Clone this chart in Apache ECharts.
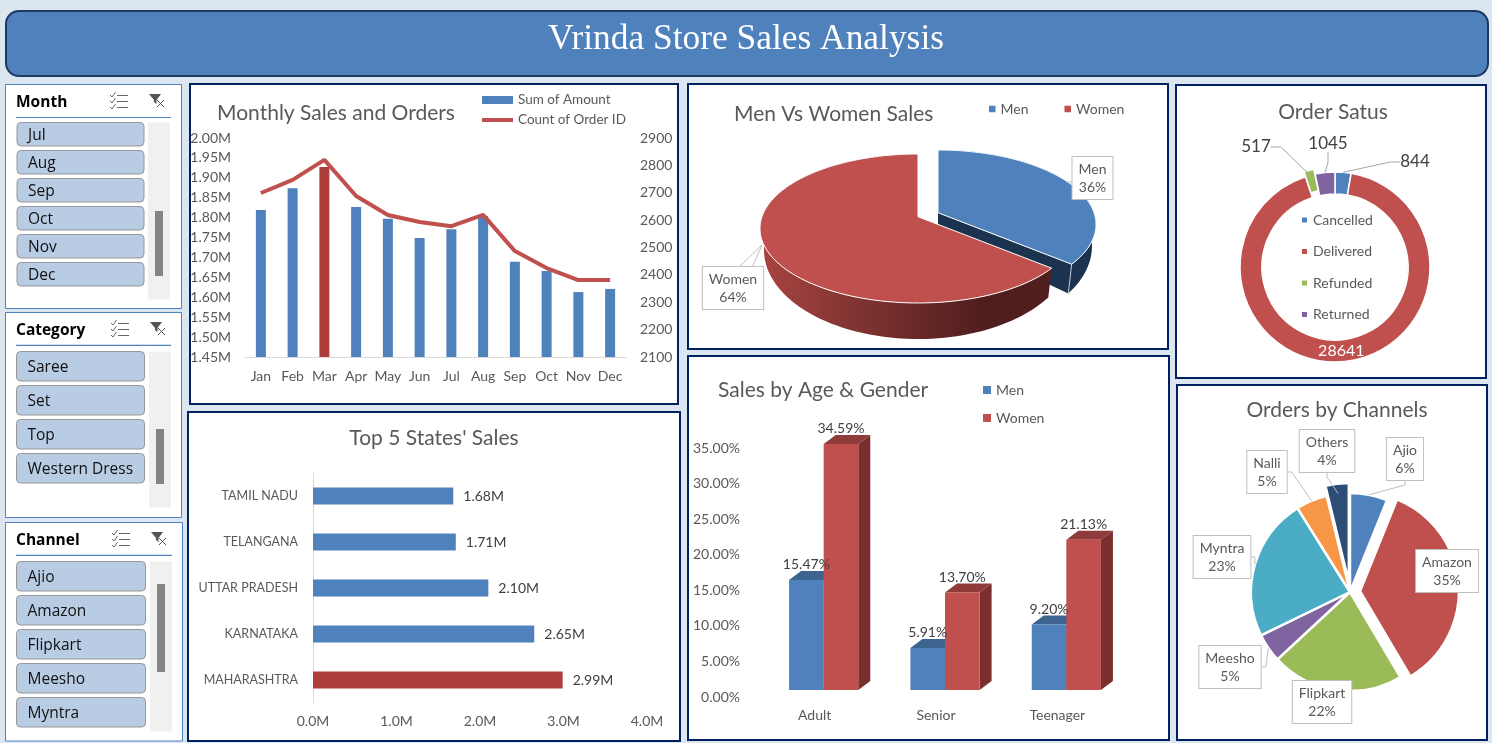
<!DOCTYPE html>
<html><head><meta charset="utf-8">
<style>html,body{margin:0;padding:0;background:#DCE6F1;overflow:hidden}#c{width:1492px;height:743px}</style>
<script src="https://cdn.jsdelivr.net/npm/echarts@6/dist/echarts.min.js"></script>
</head><body><div id="c"></div>
<script>
// ---------- data ----------
const months = ['Jan','Feb','Mar','Apr','May','Jun','Jul','Aug','Sep','Oct','Nov','Dec'];
const salesAmount = [1819000,1874000,1927000,1827000,1797000,1749000,1771000,1804000,1689000,1666000,1613000,1621000];
const orderCount = [2699,2747,2820,2688,2619,2593,2578,2619,2487,2425,2381,2381];
const stateNames = ['MAHARASHTRA','KARNATAKA','UTTAR PRADESH','TELANGANA','TAMIL NADU'];
const stateSales = [2.99,2.65,2.10,1.71,1.68];
const genderNames = ['Men','Women'];
const genderShare = [36,64];
const ageGroups = ['Adult','Senior','Teenager'];
const ageMen = [15.47,5.91,9.20];
const ageWomen = [34.59,13.70,21.13];
const statusNames = ['Cancelled','Delivered','Refunded','Returned'];
const statusValues = [844,28641,517,1045];
const channelNames = ['Ajio','Amazon','Flipkart','Meesho','Myntra','Nalli','Others'];
const channelShare = [6.1,35.4,21.6,4.7,23.3,5.1,3.8];
const sliceMonth = ['Jul','Aug','Sep','Oct','Nov','Dec'];
const sliceCategory = ['Saree','Set','Top','Western Dress'];
const sliceChannel = ['Ajio','Amazon','Flipkart','Meesho','Myntra'];

// ---------- style ----------
const BLUE='#4F81BD',RED='#C0504D',DRED='#AE3E3B',GREEN='#9BBB59',PURPLE='#8064A2',TEAL='#4BACC6',ORANGE='#F79646',NAVY='#2C4D75';
const TXT='#595959',F='Lato',NAVYB='#002060';

// ---------- panels ----------
const G=[];
function rect(x,y,w,h,fill,stroke,lw,r,z){G.push({type:'rect',silent:true,z:z||0,shape:{x,y,width:w,height:h,r:r||0},style:{fill,stroke,lineWidth:lw||0}});}
function text(x,y,t,font,fill,align){G.push({type:'text',silent:true,z:1,x,y,style:{text:t,font,fill,align:align||'left',verticalAlign:'middle'}});}
function line(pts,stroke,lw){G.push({type:'polyline',silent:true,z:1,shape:{points:pts},style:{stroke,lineWidth:lw||1,fill:'none'}});}
rect(6,11,1482,65,BLUE,'#1F3864',2,13);
text(746,40,'Vrinda Store Sales Analysis','35.4px "Liberation Serif"','#fff','center');
[[190,84,488,320],[188,412,492,329],[688,84,480,265],[688,356,481,384],[1176,85,310,293],[1177,385,310,355]]
 .forEach(p=>rect(p[0],p[1],p[2],p[3],'#fff',NAVYB,2));

function slicer(o){
  rect(o.x,o.y,o.w,o.h,'#fff',BLUE,1);
  text(16,o.hy+2,o.title,'bold 15.5px "Open Sans"','#000');
  line([[16,o.uy],[o.ux,o.uy]],BLUE,1.2);
  const ix=o.ix, iy=o.hy;
  for(let i=0;i<3;i++){const yy=iy-6+i*6;
    line([[ix,yy],[ix+2,yy+2],[ix+5.5,yy-3]],'#666',1);
    line([[ix+7,yy+.5],[ix+18,yy+.5]],'#666',1);}
  G.push({type:'polygon',silent:true,z:1,shape:{points:[[ix+39,iy-7],[ix+51,iy-7],[ix+46.5,iy-1],[ix+46.5,iy+3],[ix+44,iy+1],[ix+44,iy-1]]},style:{fill:'#555'}});
  line([[ix+47,iy-1],[ix+54,iy+6]],'#555',1); line([[ix+54,iy-1],[ix+47,iy+6]],'#555',1);
  o.items.forEach((t,i)=>{
    rect(o.bx,o.by+i*o.pitch,o.bw,o.bh,'#B8CCE4','#979797',1,4);
    text(o.bx+11,o.by+i*o.pitch+o.bh/2+1.5,t,'15.5px "Open Sans"','#111');
  });
  rect(o.tx,o.by,22,o.th,'#F0F0F0');
  rect(o.tx+7,o.thy,8,o.thh,'#848484');
}
slicer({x:5.5,y:84.5,w:176,h:224,hy:101,title:'Month',uy:117.5,ux:171,ix:110,bx:17,by:122.5,bw:127,bh:23.5,pitch:28,items:sliceMonth,tx:148,th:177,thy:211,thh:65});
slicer({x:5.5,y:312.5,w:176,h:205,hy:329,title:'Category',uy:345.3,ux:171,ix:111,bx:16.5,by:351.5,bw:128,bh:29.5,pitch:34,items:sliceCategory,tx:149,th:156,thy:429,thh:55});
slicer({x:5.5,y:522.5,w:177,h:218.5,hy:539,title:'Channel',uy:555.3,ux:172,ix:112,bx:16.5,by:561.5,bw:129,bh:29.5,pitch:34,items:sliceChannel,tx:150,th:170,thy:584,thh:88});

// ---------- 3D pie (projected from the shares) ----------
const P3={cx:918,a:-0.158,top:{cy:228.5,rx:158,ry:74.5},bot:{cy:250,rx:154,ry:89}};
function rimPt(deg,e){const t=deg*Math.PI/180,x=Math.sin(t),y=-Math.cos(t),a=P3.a,d=1+a*y;
  return [P3.cx+e.rx*x*Math.sqrt(1-a*a)/d, e.cy+e.ry*(y+a)/d];}
function apexPt(e){return [P3.cx,e.cy+e.ry*P3.a];}
function pie3dItem(idx,colors,off,box){
  return function(params,api){
    const total=genderShare.reduce((s,v)=>s+v,0);
    let before=0; for(let i=0;i<idx;i++) before+=genderShare[i];
    const s=before/total*360,e=(before+api.value(0))/total*360;
    const ang=[]; for(let d=s;d<e;d+=2)ang.push(d); ang.push(e);
    const mv=p=>[p[0]+off[0],p[1]+off[1]];
    const rim=ang.map(d=>mv(rimPt(d,P3.top))), low=ang.map(d=>mv(rimPt(d,P3.bot)));
    const apex=mv(apexPt(P3.top)), apexLow=mv(apexPt(P3.bot));
    const wall=rim.concat(low.slice().reverse());
    const kids=[];
    kids.push({type:'polygon',shape:{points:wall},style:{fill:colors.wall}});
    if(colors.cut){const last=rim[rim.length-1],lastLow=low[low.length-1];
      kids.push({type:'polygon',shape:{points:[apex,last,lastLow,apexLow]},style:{fill:colors.cut}});
      kids.push({type:'line',shape:{x1:last[0],y1:last[1],x2:lastLow[0],y2:lastLow[1]},style:{stroke:'#dfe6ee',lineWidth:.8}});}
    kids.push({type:'polygon',shape:{points:[apex].concat(rim)},style:{fill:colors.top,stroke:'#fff',lineWidth:1}});
    kids.push({type:'polyline',shape:{points:box.lead},style:{stroke:'#BFBFBF',lineWidth:1,fill:'none'},z2:20});
    kids.push({type:'text',x:box.x,y:box.y,z2:21,style:{text:genderNames[idx]+'\n'+api.value(0)+'%',font:'14px '+F,fill:TXT,align:'center',verticalAlign:'middle',lineHeight:18,backgroundColor:'#fff',borderColor:'#BFBFBF',borderWidth:1,padding:[3,6]}});
    return {type:'group',children:kids};
  };
}
const wallGrad={type:'linear',x:770,y:0,x2:1060,y2:0,global:true,colorStops:[{offset:0,color:'#A5423F'},{offset:.45,color:'#6E2C2A'},{offset:.75,color:'#4E1D1D'},{offset:1,color:'#521F1F'}]};

// ---------- 3D bars ----------
const BW=34.6,DX=12,DY=9;
function bar3d(shift,front,top,side){
  return function(params,api){
    const p=api.coord([api.value(0),api.value(1)]),b=api.coord([api.value(0),0]);
    const x=p[0]+shift*BW,w=BW,y=p[1],y0=b[1];
    return {type:'group',children:[
      {type:'polygon',shape:{points:[[x+w,y],[x+w+DX,y-DY],[x+w+DX,y0-DY],[x+w,y0]]},style:{fill:side}},
      {type:'polygon',shape:{points:[[x,y],[x+DX,y-DY],[x+w+DX,y-DY],[x+w,y]]},style:{fill:top}},
      {type:'rect',shape:{x,y,width:w,height:y0-y},style:{fill:front}},
      {type:'text',x:x+w/2,y:y-15,z2:50,style:{text:api.value(1).toFixed(2)+'%',font:'14px '+F,fill:'#404040',align:'center',verticalAlign:'middle'}}
    ]};
  };
}

const leg={textStyle:{color:TXT,fontFamily:F,fontSize:14},selectedMode:false};
const tt={fontFamily:F,fontWeight:'normal',fontSize:21,color:TXT};
const pieStatusLabels=[[1415,162],null,[1256,147],[1328,144]];
const pieChannelLabels=[[1405,459],[1447,571],[1322,702],[1230,667],[1222,557],[1267,472],[1327,451]];
const option={
  animation:false,backgroundColor:'#DCE6F1',
  graphic:{elements:G},
  title:[
    {text:"Monthly Sales and Orders",left:212,top:98,textStyle:tt},
    {text:"Top 5 States' Sales",left:429,top:423,textAlign:'center',textStyle:tt},
    {text:"Men Vs Women Sales",left:729,top:99,textStyle:tt},
    {text:"Sales by Age & Gender",left:713,top:375,textStyle:tt},
    {text:"Order Satus",left:1328,top:97,textAlign:'center',textStyle:tt},
    {text:"Orders by Channels",left:1332,top:395,textAlign:'center',textStyle:tt}
  ],
  legend:[
    Object.assign({},leg,{left:475,top:88,orient:'vertical',itemWidth:31,itemHeight:8,itemGap:6,textStyle:{color:TXT,fontFamily:F,fontSize:13.5},
      data:[{name:'Sum of Amount',icon:'rect'},{name:'Count of Order ID',itemStyle:{opacity:0},lineStyle:{color:RED,width:4}}]}),
    Object.assign({},leg,{left:984,top:97,orient:'horizontal',itemWidth:6.5,itemHeight:6.5,itemGap:36,icon:'rect',data:genderNames}),
    Object.assign({},leg,{left:978,top:378,orient:'vertical',itemWidth:8,itemHeight:8,itemGap:14,icon:'rect',data:genderNames}),
    Object.assign({},leg,{left:1295,top:208,orient:'vertical',itemWidth:7,itemHeight:7,itemGap:17.5,icon:'rect',data:statusNames})
  ],
  grid:[
    {left:245,top:138,width:381,height:219},
    {left:313,top:473,width:334,height:230},
    {left:763,top:441,width:364,height:249}
  ],
  xAxis:[
    {gridIndex:0,type:'category',data:months,axisTick:{show:false},axisLine:{lineStyle:{color:'#D9D9D9'}},axisLabel:{color:TXT,fontFamily:F,fontSize:14,margin:12,interval:0}},
    {gridIndex:1,type:'value',min:0,max:4,interval:1,splitLine:{show:false},axisLine:{show:false},axisTick:{show:false},axisLabel:{color:TXT,fontFamily:F,fontSize:14,margin:11,formatter:v=>v.toFixed(1)+'M'}},
    {gridIndex:2,type:'category',data:ageGroups,axisTick:{show:false},axisLine:{show:false},axisLabel:{color:TXT,fontFamily:F,fontSize:14,margin:18,padding:[0,18,0,0]}}
  ],
  yAxis:[
    {gridIndex:0,type:'value',min:1450000,max:2000000,interval:50000,splitLine:{show:false},axisLine:{show:false},axisTick:{show:false},axisLabel:{color:TXT,fontFamily:F,fontSize:14,margin:14,formatter:v=>(v/1e6).toFixed(2)+'M'}},
    {gridIndex:0,type:'value',position:'right',min:2100,max:2900,interval:100,splitLine:{show:false},axisLine:{show:false},axisTick:{show:false},axisLabel:{color:TXT,fontFamily:F,fontSize:14,margin:14,formatter:v=>String(v)}},
    {gridIndex:1,type:'category',data:stateNames,axisTick:{show:false},axisLine:{lineStyle:{color:'#D9D9D9'}},axisLabel:{color:TXT,fontFamily:F,fontSize:12.5,margin:15}},
    {gridIndex:2,type:'value',min:0,max:35,interval:5,splitLine:{show:false},axisLine:{show:false},axisTick:{show:false},axisLabel:{color:TXT,fontFamily:F,fontSize:14,margin:23,verticalAlign:'top',formatter:v=>v.toFixed(2)+'%'}}
  ],
  series:[
    {name:'Sum of Amount',type:'bar',xAxisIndex:0,yAxisIndex:0,barWidth:10,itemStyle:{color:BLUE},
     data:salesAmount.map((v,i)=>months[i]==='Mar'?{value:v,itemStyle:{color:DRED}}:v)},
    {name:'Count of Order ID',type:'line',xAxisIndex:0,yAxisIndex:1,symbol:'none',showSymbol:false,lineStyle:{color:RED,width:4},itemStyle:{color:RED},data:orderCount},
    {name:'State Sales',type:'bar',xAxisIndex:1,yAxisIndex:2,barWidth:17,itemStyle:{color:BLUE},
     label:{show:true,position:'right',distance:10,color:'#404040',fontFamily:F,fontSize:14,formatter:p=>p.value.toFixed(2)+'M'},
     data:stateSales.map((v,i)=>stateNames[i]==='MAHARASHTRA'?{value:v,itemStyle:{color:DRED}}:v)},
    {name:'Men',type:'custom',coordinateSystem:'none',itemStyle:{color:BLUE},data:[genderShare[0]],
     renderItem:pie3dItem(0,{top:BLUE,wall:'#1C3350',cut:'#1C3350'},[20,-4],{x:1092.5,y:178,lead:[[1074,182],[1066,182]]})},
    {name:'Women',type:'custom',coordinateSystem:'none',itemStyle:{color:RED},data:[genderShare[1]],
     renderItem:pie3dItem(1,{top:RED,wall:wallGrad},[0,0],{x:733,y:288,lead:[[738,268],[762,245],[752,268]]})},
    {name:'Men',type:'custom',xAxisIndex:2,yAxisIndex:3,itemStyle:{color:BLUE},encode:{x:0,y:1},data:ageMen.map((v,i)=>[i,v]),
     renderItem:bar3d(-1,BLUE,'#3D6391','#2F4F75')},
    {name:'Women',type:'custom',xAxisIndex:2,yAxisIndex:3,itemStyle:{color:RED},encode:{x:0,y:1},data:ageWomen.map((v,i)=>[i,v]),
     renderItem:bar3d(0,RED,'#8F3B39','#7A2F2E')},
    // donut: slices
    {name:'Order Status',type:'pie',center:[1335,267],radius:[73,95],startAngle:90,clockwise:true,
     selectedMode:'multiple',selectedOffset:5,itemStyle:{borderColor:'#fff',borderWidth:1.5},
     color:[BLUE,RED,GREEN,PURPLE],label:{show:false},labelLine:{show:false},
     data:statusNames.map((n,i)=>({name:n,value:statusValues[i],selected:n==='Refunded'}))},
    // donut: value labels
    {name:'Order Status Labels',type:'pie',z:5,center:[1335,267],radius:[73,95],startAngle:90,clockwise:true,avoidLabelOverlap:false,silent:true,
     itemStyle:{color:'transparent'},
     label:{show:true,color:'#404040',fontFamily:F,fontSize:17,formatter:'{c}'},
     labelLine:{show:true,length:10,length2:10,lineStyle:{color:'#A6A6A6',width:1}},
     labelLayout:p=>{const t=pieStatusLabels[p.dataIndex];return t?{x:t[0],y:t[1],align:'center',verticalAlign:'middle'}:{dy:-3};},
     data:statusNames.map((n,i)=>({name:n,value:statusValues[i],
       label:n==='Delivered'?{position:'inside',color:'#fff',fontSize:16}:undefined,
       labelLine:n==='Delivered'?{show:false}:undefined}))},
    // channels: slices
    {name:'Orders by Channels',type:'pie',center:[1350,592],radius:[0,99],startAngle:90,clockwise:true,
     selectedMode:'multiple',selectedOffset:10,itemStyle:{borderColor:'#fff',borderWidth:2.5},
     color:[BLUE,RED,GREEN,PURPLE,TEAL,ORANGE,NAVY],label:{show:false},labelLine:{show:false},
     data:channelNames.map((n,i)=>({name:n,value:channelShare[i],selected:n==='Amazon'||n==='Others'}))},
    // channels: callout labels
    {name:'Orders by Channels Labels',type:'pie',z:5,center:[1350,592],radius:[0,99],startAngle:90,clockwise:true,avoidLabelOverlap:false,percentPrecision:0,silent:true,
     itemStyle:{color:'transparent'},
     label:{show:true,formatter:'{b}\n{d}%',color:TXT,fontFamily:F,fontSize:14,lineHeight:18,backgroundColor:'#fff',borderColor:'#BFBFBF',borderWidth:1,padding:[3,6],align:'center'},
     labelLine:{show:true,length:8,length2:4,lineStyle:{color:'#BFBFBF',width:1}},
     labelLayout:p=>{const t=pieChannelLabels[p.dataIndex];return {x:t[0],y:t[1],align:'center',verticalAlign:'middle'};},
     data:channelNames.map((n,i)=>({name:n,value:channelShare[i]}))}
  ]
};
const chart=echarts.init(document.getElementById('c'),null,{renderer:'canvas',width:1492,height:743});
chart.setOption(option);
</script></body></html>
